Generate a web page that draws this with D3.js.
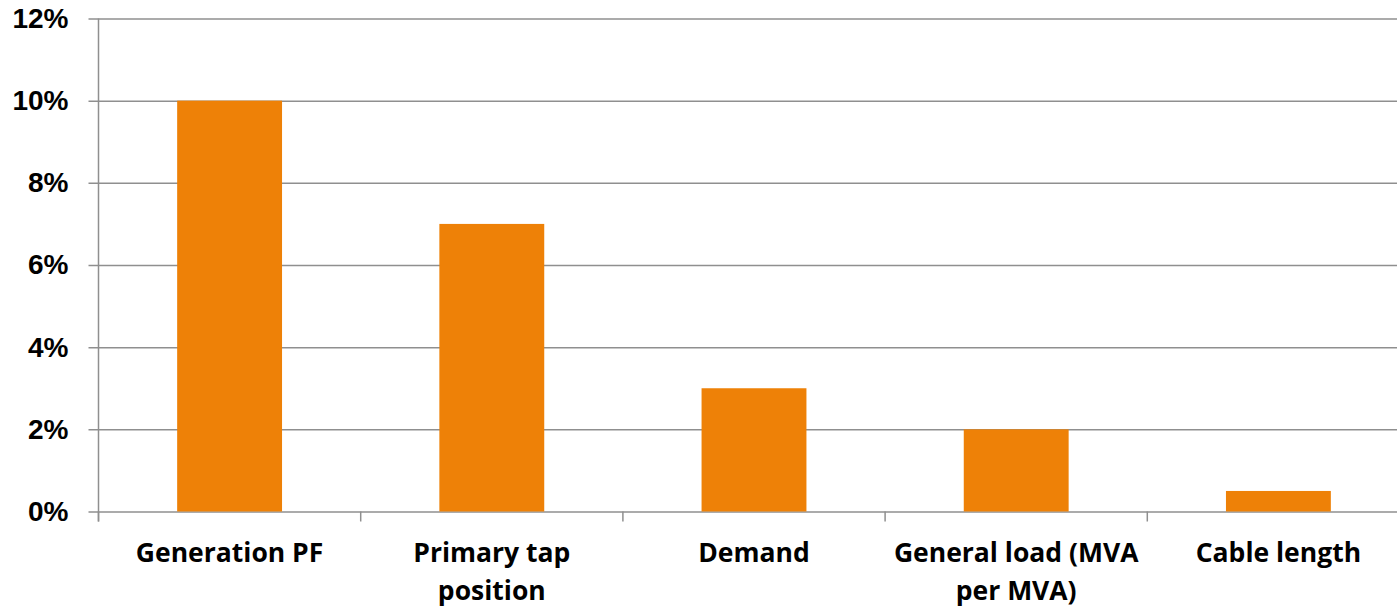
<!DOCTYPE html>
<html>
<head>
<meta charset="utf-8">
<script src="https://cdn.jsdelivr.net/npm/d3@7"></script>
<style>
  body { margin: 0; background: #fff; }
  svg { display: block; font-family: "Open Sans", sans-serif; }
</style>
</head>
<body>
<div id="chart"></div>
<script>
// categories, wrapped lines split by "\n"
var categories = ["Generation PF", "Primary tap\nposition", "Demand", "General load (MVA\nper MVA)", "Cable length"];
var values = [0.10, 0.07, 0.03, 0.02, 0.005];
var yTicks = [0, 0.02, 0.04, 0.06, 0.08, 0.10, 0.12];

var W = 1397, H = 609;
var margin = { top: 18.5, left: 98.5 };
var plotH = 493;
var step = 262.2;

var svg = d3.select('#chart').append('svg')
  .attr('width', W)
  .attr('height', H);

var x = d3.scaleBand()
  .domain(categories)
  .range([margin.left, margin.left + step * categories.length])
  .paddingInner(0.6)
  .paddingOuter(0.3);

var y = d3.scaleLinear()
  .domain([0, 0.12])
  .range([margin.top + plotH, margin.top]);

var grid_color = '#8f8f8f';

// gridlines + y labels
var yAxis = svg.append('g')
  .attr('transform', 'translate(' + margin.left + ',0)')
  .call(d3.axisLeft(y).tickValues(yTicks).tickFormat(d3.format('.0%')).tickSize(10).tickPadding(20));
yAxis.select('.domain').remove();
yAxis.selectAll('.tick line')
  .attr('x1', -10)
  .attr('x2', W - margin.left)
  .attr('stroke', grid_color)
  .attr('stroke-width', 1.5);
yAxis.selectAll('.tick text')
  .attr('fill', '#000')
  .style('font-size', '28px')
  .style('font-weight', 'bold');

// bars
svg.selectAll('rect.bar')
  .data(values)
  .enter().append('rect')
  .attr('class', 'bar')
  .attr('x', function(d, i) { return x(categories[i]); })
  .attr('width', x.bandwidth())
  .attr('y', function(d) { return y(d); })
  .attr('height', function(d) { return y(0) - y(d); })
  .attr('fill', '#ee8107');

// vertical axis line
svg.append('line')
  .attr('x1', margin.left).attr('x2', margin.left)
  .attr('y1', y(0.12)).attr('y2', y(0) + 10)
  .attr('stroke', grid_color)
  .attr('stroke-width', 1.5);

// category boundary ticks
var bounds = d3.range(categories.length + 1).map(function(i) { return margin.left + i * x.step(); });
svg.selectAll('line.ctick')
  .data(bounds)
  .enter().append('line')
  .attr('class', 'ctick')
  .attr('x1', function(d) { return d; }).attr('x2', function(d) { return d; })
  .attr('y1', y(0)).attr('y2', y(0) + 10)
  .attr('stroke', grid_color)
  .attr('stroke-width', 1.5);

// x labels
var labels = svg.selectAll('text.xlab')
  .data(categories)
  .enter().append('text')
  .attr('class', 'xlab')
  .attr('text-anchor', 'middle')
  .attr('x', function(d) { return x(d) + x.bandwidth() / 2; })
  .attr('y', 562)
  .style('font-size', '26.5px')
  .style('font-weight', 'bold')
  .attr('fill', '#000');

labels.each(function(d) {
  var el = d3.select(this);
  d.split('\n').forEach(function(line, i) {
    el.append('tspan')
      .attr('x', el.attr('x'))
      .attr('dy', i == 0 ? 0 : 38)
      .text(line);
  });
});
</script>
</body>
</html>
